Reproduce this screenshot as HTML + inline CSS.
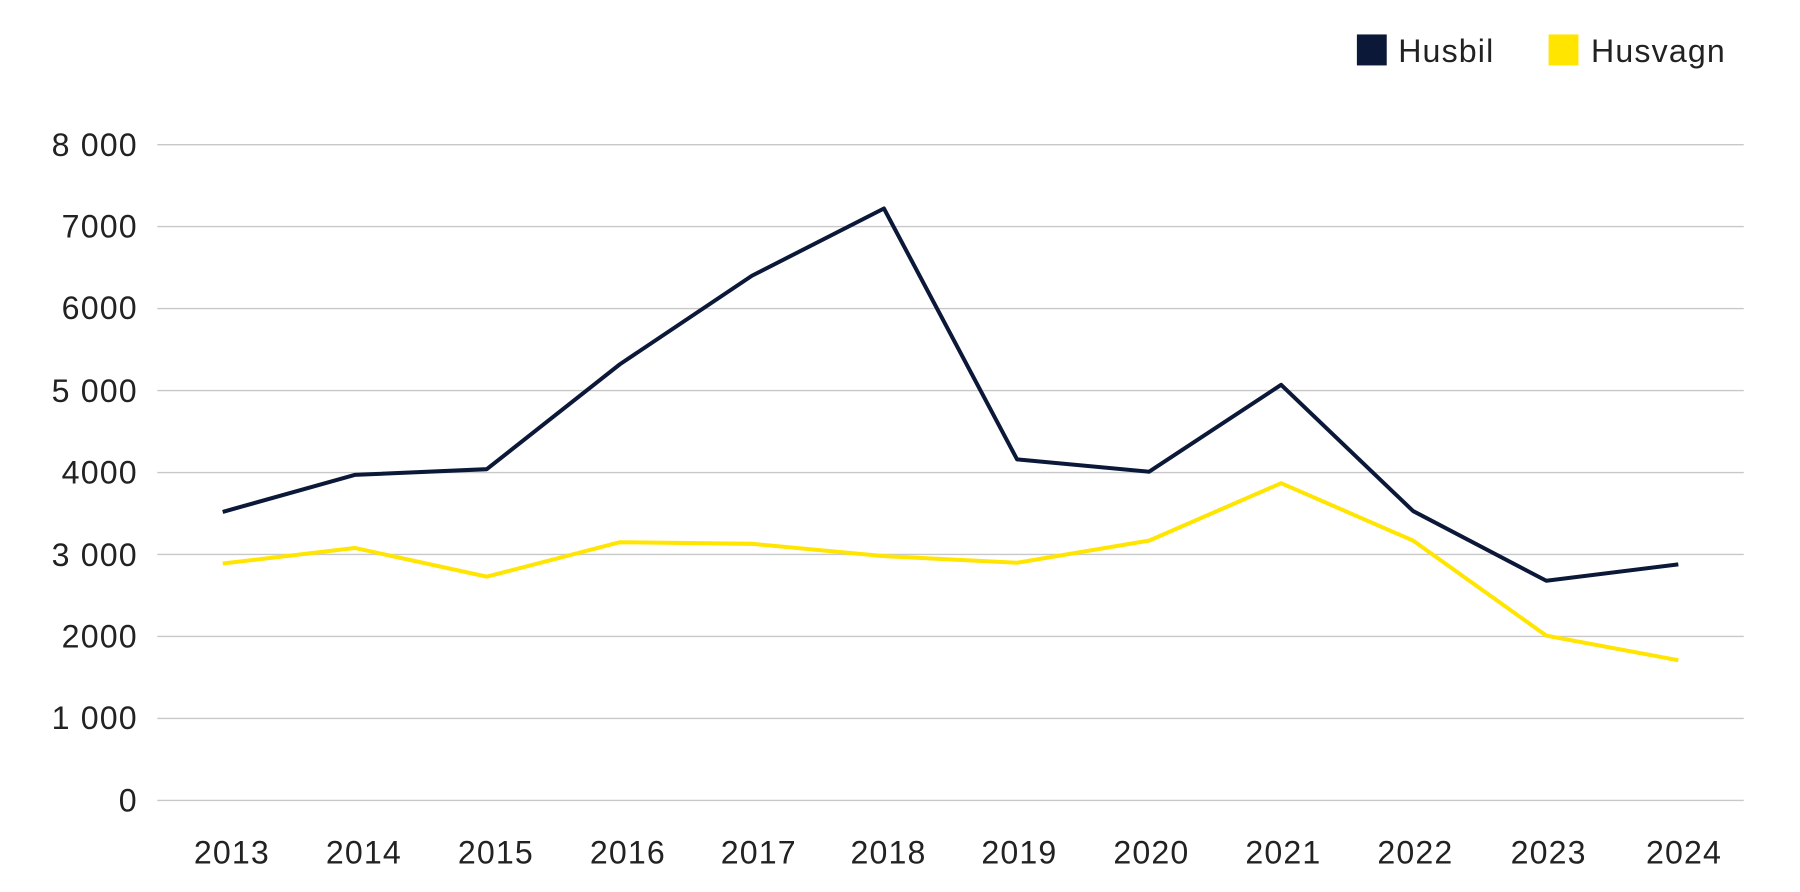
<!DOCTYPE html>
<html><head><style>html,body{margin:0;padding:0;background:#fff;}svg{display:block;}</style></head>
<body>
<svg width="1800" height="892" viewBox="0 0 1568 777" preserveAspectRatio="none" xmlns="http://www.w3.org/2000/svg" font-family="Liberation Sans, sans-serif" fill="#222">
<g stroke="#c8c8c8" stroke-width="1.2">
<line x1="137" x2="1519" y1="126" y2="126"/><line x1="137" x2="1519" y1="197.4" y2="197.4"/>
<line x1="137" x2="1519" y1="268.8" y2="268.8"/><line x1="137" x2="1519" y1="340.2" y2="340.2"/>
<line x1="137" x2="1519" y1="411.6" y2="411.6"/><line x1="137" x2="1519" y1="483" y2="483"/>
<line x1="137" x2="1519" y1="554.4" y2="554.4"/><line x1="137" x2="1519" y1="625.8" y2="625.8"/>
<line x1="137" x2="1519" y1="697.2" y2="697.2"/>
</g>
<g font-size="28" text-anchor="end" letter-spacing="1">
<text x="120" y="136">8 000</text><text x="120" y="207">7000</text><text x="120" y="278">6000</text>
<text x="120" y="350">5 000</text><text x="120" y="421">4000</text><text x="120" y="493">3 000</text>
<text x="120" y="564">2000</text><text x="120" y="635">1 000</text><text x="120" y="707">0</text>
</g>
<g font-size="28" text-anchor="middle" letter-spacing="1">
<text x="202" y="752">2013</text><text x="317" y="752">2014</text><text x="432" y="752">2015</text>
<text x="547" y="752">2016</text><text x="661" y="752">2017</text><text x="774" y="752">2018</text>
<text x="888" y="752">2019</text><text x="1003" y="752">2020</text><text x="1118" y="752">2021</text>
<text x="1233" y="752">2022</text><text x="1349" y="752">2023</text><text x="1467" y="752">2024</text>
</g>
<polyline fill="none" stroke="#FFE500" stroke-width="3.5" stroke-linejoin="round" points="194,490.9 309,477.3 424,502.3 540,472.3 655,473.7 770,484.4 886,490.2 1001,470.9 1116,420.9 1231,470.9 1347,553.7 1462,575.1"/>
<polyline fill="none" stroke="#0B1838" stroke-width="3.5" stroke-linejoin="round" points="194,445.9 309,413.7 424,408.7 540,317.3 655,240.2 770,181.6 886,400.2 1001,410.9 1116,335.2 1231,445.2 1347,505.9 1462,491.6"/>
<rect x="1182" y="30" width="26" height="27" fill="#0B1838"/>
<text x="1218" y="54" font-size="28" letter-spacing="1">Husbil</text>
<rect x="1349" y="30" width="26" height="27" fill="#FFE500"/>
<text x="1386" y="54" font-size="28" letter-spacing="1">Husvagn</text>
</svg>
</body></html>
